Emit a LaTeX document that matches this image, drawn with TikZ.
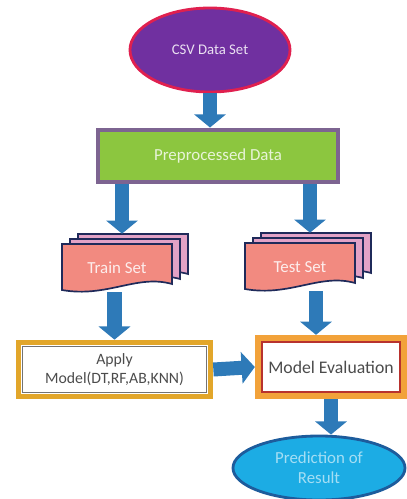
\documentclass[tikz,border=0pt]{standalone}
\usepackage{fontspec}
\setmainfont{Carlito}
\usetikzlibrary{shapes.geometric,arrows.meta}
\definecolor{csvfill}{HTML}{7030A0}
\definecolor{csvline}{HTML}{E0204F}
\definecolor{prepfill}{HTML}{8CC63F}
\definecolor{prepline}{HTML}{7D6491}
\definecolor{arrowblue}{HTML}{2E7AB8}
\definecolor{docfront}{HTML}{F28A80}
\definecolor{docback}{HTML}{E2A2C6}
\definecolor{docline}{HTML}{1F2A5A}
\definecolor{applyline}{HTML}{E2A62A}
\definecolor{evalline}{HTML}{F2A23A}
\definecolor{evalinner}{HTML}{B8322E}
\definecolor{predfill}{HTML}{1CACE4}
\definecolor{predline}{HTML}{1D5C9C}
\tikzset{
  blockarrow/.style={arrowblue, line width=0.35cm,
    -{Triangle[width=0.78cm,length=0.33cm]}},
  docpage/.style={draw=docline, line width=1.2pt},
}
% one page of the stacked documents, centred at the origin (px units)
\def\docpath{(-55,-24) -- (55,-24) -- (55,16) .. controls (20,6) and (-10,30) .. (-55,22) -- cycle}
\newcommand{\docstack}[1]{%
  \begin{scope}[shift={(#1.center)}]
    \draw[docpage,fill=docback] [shift={(16,-10)}] \docpath;
    \draw[docpage,fill=docback] [shift={(8,-5)}] \docpath;
    \draw[docpage,fill=docfront] \docpath;
  \end{scope}}

\begin{document}
\begin{tikzpicture}[x=0.025cm,y=-0.025cm]
\useasboundingbox (0,0) rectangle (407,499);
% nodes
\node [ellipse,draw=csvline,line width=2pt,fill=csvfill,minimum width=4cm,minimum height=2.1cm,
  text=white!85!csvfill,font=\fontsize{10.5}{12}\selectfont] at (210,50) (csv) {CSV Data Set};
\node [rectangle,draw=prepline,line width=3.5pt,fill=prepfill,minimum width=6cm,minimum height=1.3cm,
  text=white!80!prepfill,font=\large] at (218,156) (prep) {Preprocessed Data};
\node [minimum width=2.75cm,minimum height=1.2cm] at (117,268) (train) {};
\node [minimum width=2.75cm,minimum height=1.2cm] at (300,267) (test) {};
\docstack{train}
\docstack{test}
\node [text=white!85!docfront,font=\large] at (train.center) (trainlabel) {Train Set};
\node [text=white!85!docfront,font=\large] at (test.center) (testlabel) {Test Set};
\node [rectangle,draw=applyline,line width=4pt,fill=white,minimum width=4.8cm,minimum height=1.35cm,
  align=center,text=black!70,font=\fontsize{11.2}{13.5}\selectfont,
  path picture={\draw[black!55,line width=0.8pt] ([shift={(2.6pt,-2.6pt)}]path picture bounding box.north west)
    rectangle ([shift={(-2.6pt,2.6pt)}]path picture bounding box.south east);}]
  at (114.5,369.5) (apply) {Apply\\Model(DT,RF,AB,KNN)};
\node [rectangle,draw=evalline,line width=4.5pt,fill=white,minimum width=3.65cm,minimum height=1.45cm,
  text=black!70,font=\fontsize{12.6}{15}\selectfont,
  path picture={\draw[evalinner,line width=1.2pt] ([shift={(2.9pt,-2.9pt)}]path picture bounding box.north west)
    rectangle ([shift={(-2.9pt,2.9pt)}]path picture bounding box.south east);}]
  at (331,367) (eval) {Model Evaluation};
\node [ellipse,draw=predline,line width=2pt,fill=predfill,minimum width=4.3cm,minimum height=1.6cm,
  align=center,text=white!60!predfill,font=\large] at (319,468) (pred) {Prediction of\\Result};
% arrows
\draw[blockarrow] (csv.south) -- (csv.south |- prep.north);
\draw[blockarrow] (prep.south -| 122,0) -- ([shift={(5,-10)}]train.north);
\draw[blockarrow] (prep.south -| 310,0) -- ([shift={(10,-10)}]test.north);
\draw[blockarrow] (apply.north |- train.south) -- (apply.north);
\draw[blockarrow] (apply.east) -- (eval.west);
\draw[blockarrow] (test.south -| 316,0) -- (eval.north -| 316,0);
\draw[blockarrow] (eval.south) -- (eval.south |- pred.north);
\end{tikzpicture}
\end{document}
